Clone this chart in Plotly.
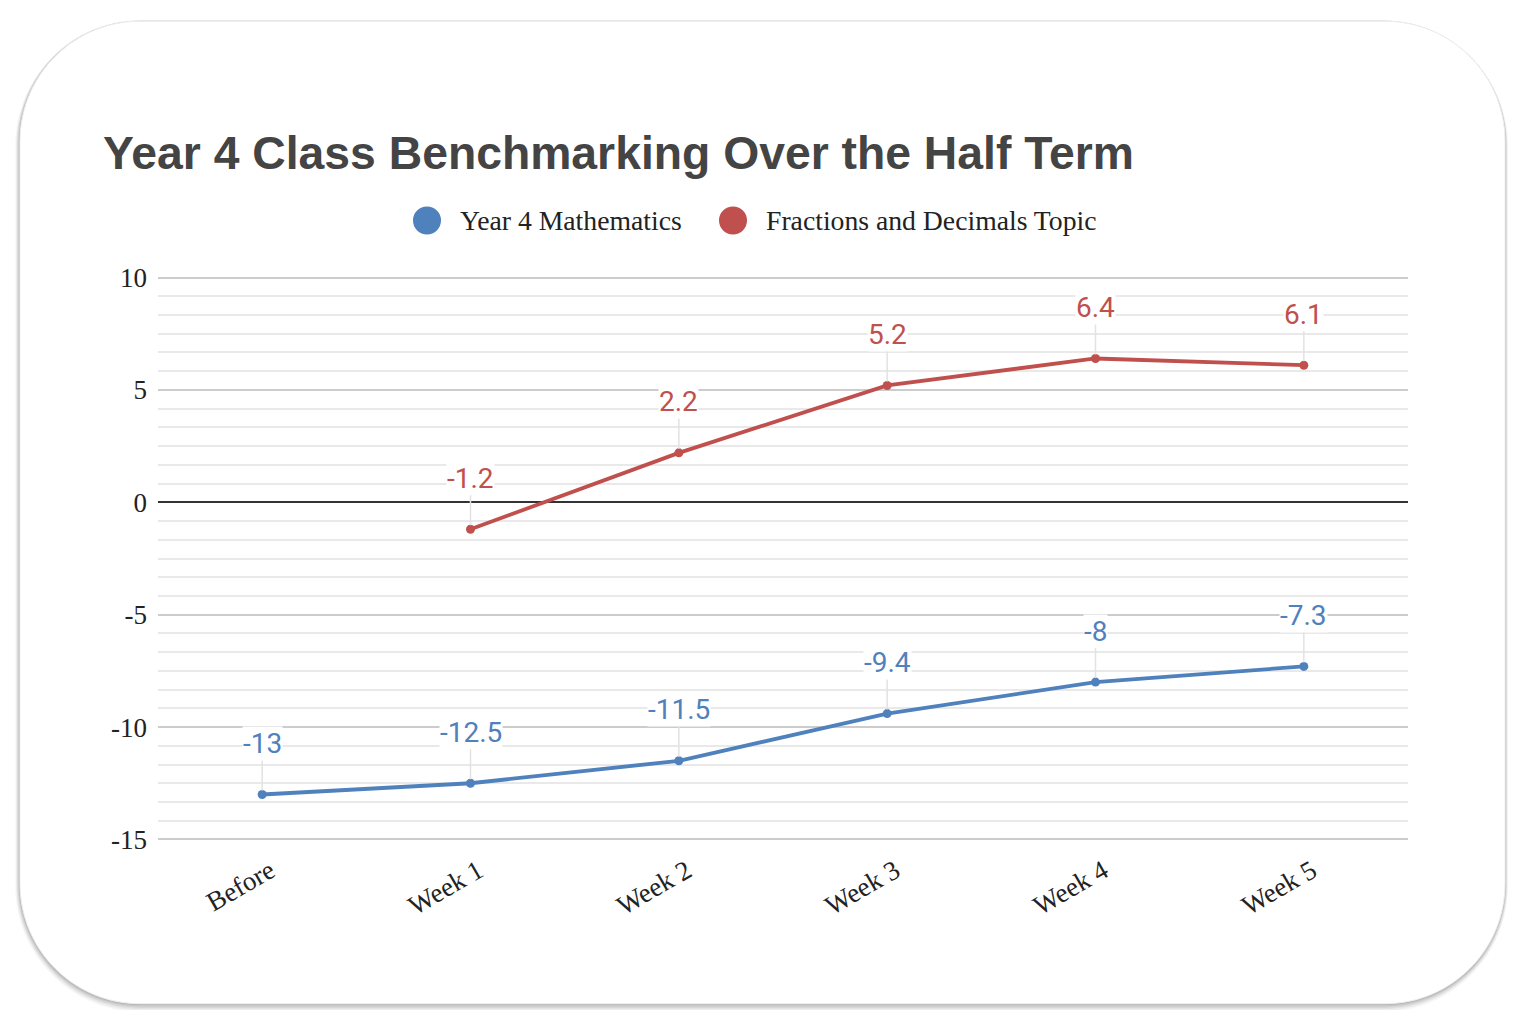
import plotly.graph_objects as go

# chart data
weeks = ["Before", "Week 1", "Week 2", "Week 3", "Week 4", "Week 5"]
maths = [-13, -12.5, -11.5, -9.4, -8, -7.3]
fractions = [None, -1.2, 2.2, 5.2, 6.4, 6.1]
series_names = ["Year 4 Mathematics", "Fractions and Decimals Topic"]
y_ticks = [10, 5, 0, -5, -10, -15]
y_tick_text = ["10", "5", "0", "-5", "-10", "-15"]

BLUE = "#4f81bd"
RED = "#c0504d"
OFF = 8  # page body margin
PAD = 0.07  # keeps the edge gridlines (10 and -15) from being clipped
UNIT = 561 / 25
W, H = 1526 - 2 * OFF, 1018 - 2 * OFF
ML, MT = 158 - OFF, 278 - OFF - PAD * UNIT
PW, PH = 1250, 561 + 2 * PAD * UNIT
MR, MB = W - ML - PW, H - MT - PH


def px(x, y):
    # page pixel position -> paper fraction
    return (x - OFF - ML) / PW, (MT + PH - (y - OFF)) / PH


def rounded_path(x0, y0, x1, y1, r):
    k = 0.5523 * r
    pts = [
        ("M", [(x0 + r, y0)]),
        ("L", [(x1 - r, y0)]),
        ("C", [(x1 - r + k, y0), (x1, y0 + r - k), (x1, y0 + r)]),
        ("L", [(x1, y1 - r)]),
        ("C", [(x1, y1 - r + k), (x1 - r + k, y1), (x1 - r, y1)]),
        ("L", [(x0 + r, y1)]),
        ("C", [(x0 + r - k, y1), (x0, y1 - r + k), (x0, y1 - r)]),
        ("L", [(x0, y0 + r)]),
        ("C", [(x0, y0 + r - k), (x0 + r - k, y0), (x0 + r, y0)]),
    ]
    out = ""
    for cmd, coords in pts:
        out += cmd + " ".join("%.5f,%.5f" % px(a, b) for a, b in coords) + " "
    return out + "Z"


shapes = []
# soft shadow behind the card
for i, a in enumerate([0.03, 0.035, 0.045, 0.055, 0.065, 0.08]):
    g = 6 - i
    shapes.append(dict(type="path", xref="paper", yref="paper", layer="below",
                       path=rounded_path(20 - g * 0.8, 22 - g * 0.2, 1505 + g * 0.5, 1003 + g * 1.4, 120 + g),
                       fillcolor="rgba(0,0,0,%s)" % a, line=dict(width=0)))
shapes.append(dict(type="path", xref="paper", yref="paper", layer="below",
                   path=rounded_path(20, 22, 1505, 1003, 120),
                   fillcolor="white", line=dict(color="#efefef", width=1)))

# legend built by hand so the dots can be large
legend_items = [(427, BLUE), (733, RED)]
annotations = []
for (cx, col), name in zip(legend_items, series_names):
    lx, ly = px(cx, 221)
    shapes.append(dict(type="circle", xref="paper", yref="paper",
                       xsizemode="pixel", ysizemode="pixel", xanchor=lx, yanchor=ly,
                       x0=-14, x1=14, y0=-14, y1=14,
                       fillcolor=col, line=dict(width=0)))
    tx, _ = px(cx + 31, 221)
    annotations.append(dict(x=tx, y=ly, xref="paper", yref="paper", text=name,
                            showarrow=False, xanchor="left", yanchor="middle",
                            font=dict(family="Liberation Serif", size=27.7, color="#222")))

fig = go.Figure()
for vals, col, name in [(maths, BLUE, series_names[0]), (fractions, RED, series_names[1])]:
    fig.add_trace(go.Scatter(x=weeks, y=vals, name=name, mode="lines+markers",
                             line=dict(color=col, width=3.8), marker=dict(size=9, color=col),
                             showlegend=False, connectgaps=False))
    for wk, v in zip(weeks, vals):
        if v is None:
            continue
        annotations.append(dict(x=wk, y=v, xref="x", yref="y", text=f"{v:g}",
                                showarrow=True, arrowhead=0, arrowwidth=1.5, arrowcolor="#e2e2e2",
                                ax=0, ay=-51, standoff=4, bgcolor="white", borderpad=0,
                                font=dict(family="Roboto", size=28, color=col)))

fig.update_layout(
    width=W, height=H,
    margin=dict(l=ML, r=MR, t=MT, b=MB),
    paper_bgcolor="white", plot_bgcolor="rgba(0,0,0,0)",
    title=dict(text="<b>Year 4 Class Benchmarking Over the Half Term</b>",
               xref="container", yref="container", x=(103 - OFF) / W, y=1 - (153 - OFF) / H,
               xanchor="left", yanchor="middle",
               font=dict(family="Liberation Sans", size=46.3, color="#444444")),
    shapes=shapes, annotations=annotations,
    xaxis=dict(range=[-0.5, 5.5], showgrid=False, zeroline=False, showline=False,
               ticks="", tickangle=-30, ticklabelshift=8, ticklabelstandoff=8,
               tickfont=dict(family="Liberation Serif", size=27, color="#222")),
    yaxis=dict(range=[-15 - PAD, 10 + PAD], tickvals=y_ticks, ticktext=y_tick_text,
               showline=False, ticks="",
               gridcolor="#cccccc", gridwidth=1.5,
               zeroline=True, zerolinecolor="#333333", zerolinewidth=1.5,
               minor=dict(dtick=5 / 6, tick0=0, showgrid=True, gridcolor="#e9e9e9", gridwidth=1.5),
               ticklabelstandoff=10,
               tickfont=dict(family="Liberation Serif", size=27, color="#222")),
)

fig.write_html("out.html")
